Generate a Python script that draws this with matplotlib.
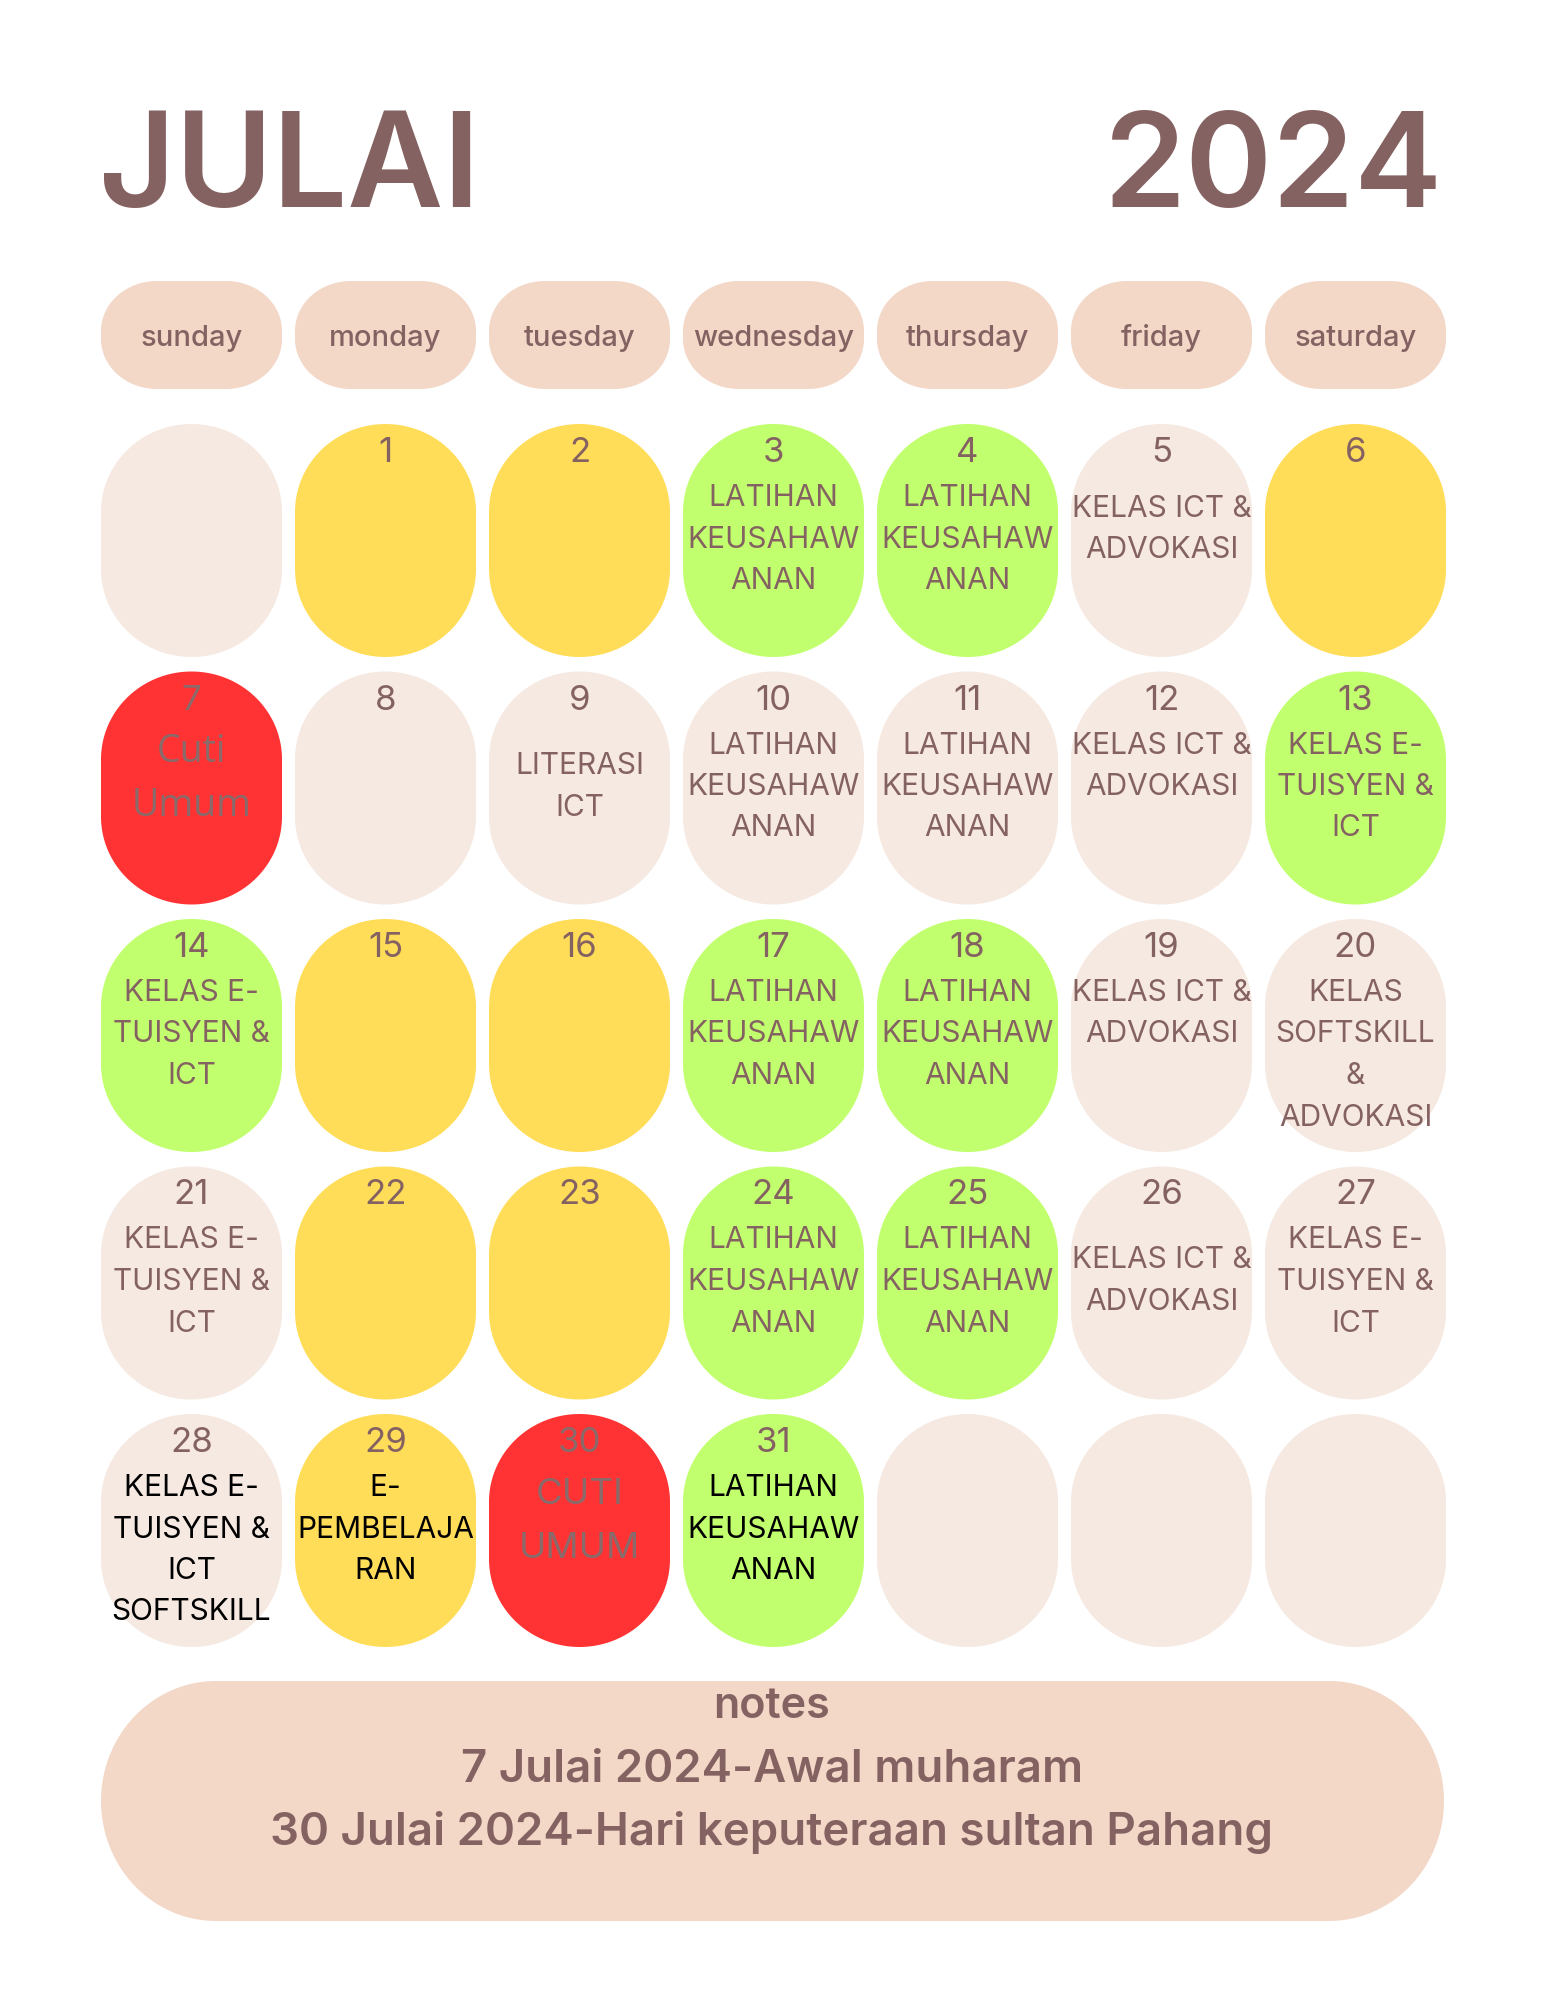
import matplotlib
matplotlib.use('Agg')
import numpy as np
import matplotlib.pyplot as plt
import matplotlib.patches as mpatches

plt.rcParams['font.family'] = ['Inter', 'DejaVu Sans']

# ── 데이터 ──
month_name = 'JULAI'
year_text = '2024'
weekdays = ['sunday', 'monday', 'tuesday', 'wednesday', 'thursday', 'friday', 'saturday']
first_weekday = 1          # 1 Julai = monday
n_days = 31

# Y = yellow, G = green, L = light, R = red (holiday)
day_kind = ['Y', 'Y', 'G', 'G', 'L', 'Y',
            'R', 'L', 'L', 'L', 'L', 'L', 'G',
            'G', 'Y', 'Y', 'G', 'G', 'L', 'L',
            'L', 'Y', 'Y', 'G', 'G', 'L', 'L',
            'L', 'Y', 'R', 'G']

LATIHAN = ['LATIHAN', 'KEUSAHAW', 'ANAN']
ICT_ADV = ['KELAS ICT &', 'ADVOKASI']
E_TUI = ['KELAS E-', 'TUISYEN &', 'ICT']
events = {
    3: LATIHAN, 4: LATIHAN, 5: ICT_ADV,
    7: ['Cuti', 'Umum'], 9: ['LITERASI', 'ICT'],
    10: LATIHAN, 11: LATIHAN, 12: ICT_ADV, 13: E_TUI,
    14: E_TUI, 17: LATIHAN, 18: LATIHAN, 19: ICT_ADV,
    20: ['KELAS', 'SOFTSKILL', '&', 'ADVOKASI'],
    21: E_TUI, 24: LATIHAN, 25: LATIHAN, 26: ICT_ADV, 27: E_TUI,
    28: ['KELAS E-', 'TUISYEN &', 'ICT', 'SOFTSKILL'],
    29: ['E-', 'PEMBELAJA', 'RAN'],
    30: ['CUTI', 'UMUM'],
    31: LATIHAN,
}
black_text_days = [28, 29, 31]

notes_title = 'notes'
notes_lines = ['7 Julai 2024-Awal muharam',
               '30 Julai 2024-Hari keputeraan sultan Pahang']

# ── 스타일 ──
BROWN = '#856262'
HOLI_TXT = '#8a6a6a'
fills = {'Y': '#ffdd59', 'G': '#c2ff6e', 'L': '#f6e9e1', 'R': '#ff3333'}
HEADER = '#f3d8c8'


def rounded_box(x, y, w, h, rx, ry, color):
    # 둥근 모서리 (타원호), y축은 아래로 증가
    t = np.linspace(0, np.pi / 2, 40)
    pts = []
    pts += list(zip(x + w - rx + rx * np.sin(t), y + ry - ry * np.cos(t)))
    pts += list(zip(x + w - rx + rx * np.cos(t), y + h - ry + ry * np.sin(t)))
    pts += list(zip(x + rx - rx * np.sin(t), y + h - ry + ry * np.cos(t)))
    pts += list(zip(x + rx - rx * np.cos(t), y + ry - ry * np.sin(t)))
    return mpatches.Polygon(pts, closed=True, facecolor=color, edgecolor='none')


W, H = 1545, 2000
fig = plt.figure(figsize=(W / 100, H / 100), dpi=100)
ax = fig.add_axes([0, 0, 1, 1])
ax.set_xlim(0, W)
ax.set_ylim(H, 0)
ax.axis('off')

col_x0, col_step, col_w = 101, 194, 181
row_y0, row_step, row_h = 424, 247.5, 233

# 제목
ax.text(99, 207, month_name, fontsize=95, fontweight='semibold', color=BROWN,
        ha='left', va='baseline')
ax.text(1443, 207, year_text, fontsize=95, fontweight='semibold', color=BROWN,
        ha='right', va='baseline')

# 요일 헤더
for i, wd in enumerate(weekdays):
    x = col_x0 + i * col_step
    ax.add_patch(rounded_box(x, 281, col_w, 108, 56, 50, HEADER))
    ax.text(x + col_w / 2, 338, wd, fontsize=21, fontweight='medium', color=BROWN,
            ha='center', va='center')

# 달력 칸
text_shift = {5: 11, 9: 21, 26: 20}
n_cells = 35
for c in range(n_cells):
    r, col = divmod(c, 7)
    x = col_x0 + col * col_step
    y = row_y0 + r * row_step
    day = c - first_weekday + 1
    kind = day_kind[day - 1] if 1 <= day <= n_days else 'L'
    ax.add_patch(rounded_box(x, y, col_w, row_h, col_w / 2, col_w / 2 * 0.97, fills[kind]))
    if not 1 <= day <= n_days:
        continue
    cx = x + col_w / 2
    num_col = HOLI_TXT if kind == 'R' else BROWN
    ax.text(cx, y + 29, str(day), fontsize=25, color=num_col,
            ha='center', va='center')
    lines = events.get(day, [])
    if kind == 'R':
        fam = ['Open Sans', 'DejaVu Sans'] if day == 7 else ['Inter', 'DejaVu Sans']
        fs = 27 if day == 7 else 26.5
        for k, ln in enumerate(lines):
            ax.text(cx, y + 81 + k * 53, ln, fontsize=fs, color=HOLI_TXT,
                    family=fam, ha='center', va='center')
        continue
    tcol = 'black' if day in black_text_days else BROWN
    y_first = y + 74 + text_shift.get(day, 0)
    for k, ln in enumerate(lines):
        ax.text(cx, y_first + k * 41.5, ln, fontsize=21.5, color=tcol,
                ha='center', va='center')

# 노트
ax.add_patch(rounded_box(101, 1681, 1343, 240, 115, 120, HEADER))
ax.text(772, 1707, notes_title, fontsize=31, fontweight='semibold', color=BROWN,
        ha='center', va='center')
for k, ln in enumerate(notes_lines):
    ax.text(772, 1770 + k * 62, ln, fontsize=32.8, fontweight='semibold', color=BROWN,
            ha='center', va='center')

plt.savefig('out.png', dpi=100, facecolor='white')
